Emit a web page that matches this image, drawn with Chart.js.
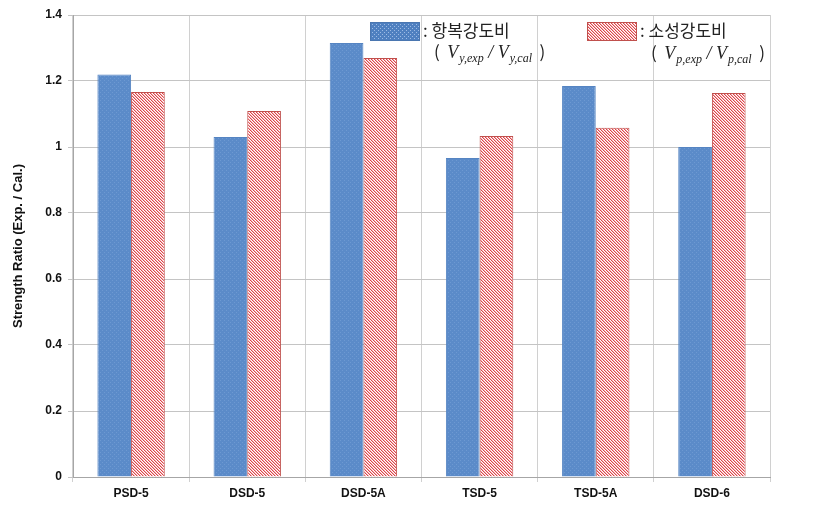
<!DOCTYPE html>
<html>
<head>
<meta charset="utf-8">
<script src="https://cdn.jsdelivr.net/npm/chart.js@4"></script>
<style>
  html, body { margin: 0; padding: 0; background: #fff; }
</style>
</head>
<body>
<canvas id="chart" width="820" height="508"></canvas>
<script>
// 시험체 이름
const categories = ['PSD-5', 'DSD-5', 'DSD-5A', 'TSD-5', 'TSD-5A', 'DSD-6'];
// 항복강도비 (Vy,exp / Vy,cal)
const yieldRatio = [1.22, 1.03, 1.315, 0.967, 1.185, 1.0];
// 소성강도비 (Vp,exp / Vp,cal)
const plasticRatio = [1.167, 1.109, 1.27, 1.033, 1.058, 1.164];
const yTicks = [0, 0.2, 0.4, 0.6, 0.8, 1, 1.2, 1.4];

// 파란 점무늬 패턴
function makeDots(base, dot) {
    const c = document.createElement('canvas');
    c.width = 4; c.height = 4;
    const g = c.getContext('2d');
    g.fillStyle = base;
    g.fillRect(0, 0, 4, 4);
    g.fillStyle = dot;
    g.fillRect(0, 0, 1, 1);
    g.fillRect(2, 2, 1, 1);
    return g.createPattern(c, 'repeat');
}

// 빨간 사선 패턴
function makeHatch() {
    const c = document.createElement('canvas');
    c.width = 3; c.height = 3;
    const g = c.getContext('2d');
    g.fillStyle = '#ffffff';
    g.fillRect(0, 0, 3, 3);
    for (let y = 0; y < 3; y++) {
        g.fillStyle = '#de4449';
        g.fillRect(y, y, 1, 1);
        g.fillStyle = '#f2b3b5';
        g.fillRect((y + 1) % 3, y, 1, 1);
    }
    return g.createPattern(c, 'repeat');
}

const dots = makeDots('#5b8bc9', '#6d99d2');
const legendDots = makeDots('#4f80c0', '#9dbbe4');
const hatch = makeHatch();

// 범례 두번째 줄: ( V_sub / V_sub )
function drawFormula(ctx, x, y, s1, s2) {
    const big = 'italic 18px "Liberation Serif", "DejaVu Serif", serif';
    const small = 'italic 12px "Liberation Serif", "DejaVu Serif", serif';
    const norm = '17px "Noto Sans CJK KR", sans-serif';
    ctx.textBaseline = 'alphabetic';
    ctx.textAlign = 'left';
    const parts = [
        [norm, '(  ', 0], [big, 'V', 0], [small, s1, 4],
        [big, ' / ', 0], [big, 'V', 0], [small, s2, 4], [norm, '  )', 0]
    ];
    parts.forEach(p => {
        ctx.font = p[0];
        ctx.fillText(p[1], x, y + p[2]);
        x += ctx.measureText(p[1]).width + (p[1] === 'V' ? 1 : 0);
    });
}

const legendPlugin = {
    id: 'legendBox',
    afterDraw(chart) {
        const ctx = chart.ctx;
        ctx.save();
        ctx.fillStyle = legendDots;
        ctx.fillRect(370, 22, 50, 19);
        ctx.strokeStyle = '#4a76b0';
        ctx.strokeRect(370.5, 22.5, 49, 18);
        ctx.fillStyle = hatch;
        ctx.fillRect(587, 22, 50, 19);
        ctx.strokeStyle = '#c0504d';
        ctx.strokeRect(587.5, 22.5, 49, 18);

        ctx.fillStyle = '#222';
        ctx.font = '17px "Noto Sans CJK KR", sans-serif';
        ctx.textBaseline = 'middle';
        ctx.fillText(': 항복강도비', 423, 31);
        ctx.fillText(': 소성강도비', 640, 31);
        drawFormula(ctx, 434, 58, 'y,exp', 'y,cal');
        drawFormula(ctx, 651, 59, 'p,exp', 'p,cal');
        ctx.restore();
    }
};

new Chart(document.getElementById('chart'), {
    type: 'bar',
    data: {
        labels: categories,
        datasets: [{
            label: '항복강도비',
            data: yieldRatio,
            backgroundColor: dots,
            borderColor: '#5584c2',
            borderWidth: 1,
            categoryPercentage: 0.58,
            barPercentage: 1.0
        }, {
            label: '소성강도비',
            data: plasticRatio,
            backgroundColor: hatch,
            borderColor: '#c0504d',
            borderWidth: 1,
            categoryPercentage: 0.58,
            barPercentage: 1.0
        }]
    },
    options: {
        responsive: false,
        animation: false,
        devicePixelRatio: 1,
        layout: { padding: { top: 15, right: 50, bottom: 0, left: 0 } },
        plugins: {
            legend: { display: false },
            tooltip: { enabled: false }
        },
        scales: {
            x: {
                afterFit(s) { s.height = 31; },
                grid: { color: '#d0d0d0', tickLength: 5, offset: true },
                border: { color: '#a6a6a6' },
                ticks: {
                    color: '#111',
                    maxRotation: 0,
                    autoSkip: false,
                    font: { family: '"Liberation Sans", Arial, sans-serif', size: 12, weight: 'bold' },
                    padding: 4
                }
            },
            y: {
                min: 0,
                max: 1.4,
                afterFit(s) { s.width = 73; },
                afterBuildTicks(s) { s.ticks = yTicks.map(v => ({ value: v })); },
                grid: { color: '#c4c4c4', tickLength: 5 },
                border: { color: '#a6a6a6' },
                ticks: {
                    color: '#111',
                    callback: v => String(v),
                    font: { family: '"Liberation Sans", Arial, sans-serif', size: 12, weight: 'bold' },
                    padding: 6
                },
                title: {
                    display: true,
                    text: 'Strength Ratio (Exp. / Cal.)',
                    color: '#111',
                    font: { family: '"Liberation Sans", Arial, sans-serif', size: 13, weight: 'bold' },
                    padding: { top: 11, bottom: 4 }
                }
            }
        }
    },
    plugins: [legendPlugin]
});
</script>
</body>
</html>
